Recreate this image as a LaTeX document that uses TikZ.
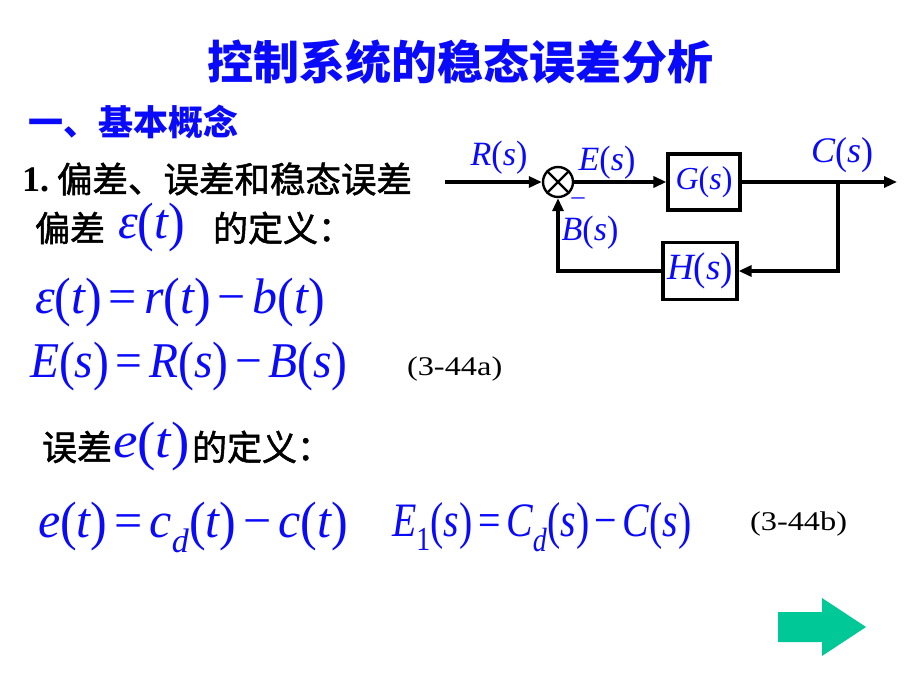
\documentclass[tikz,border=0pt]{standalone}
\usepackage{graphicx}
\usepackage{fontspec}
\setmainfont{Liberation Serif}
\newfontfamily\cjk[FakeBold=1.5]{Noto Sans CJK SC}
\newfontfamily\cjkt{Noto Sans CJK SC}
\usetikzlibrary{arrows.meta}
\definecolor{tblue}{RGB}{10,10,250}
\definecolor{agreen}{RGB}{0,200,150}
\newcommand\fs[1]{\fontsize{#1}{#1}\selectfont}
\newcommand\LP{{\upshape\raisebox{-0.04em}{\scalebox{1}[1.08]{(}}}}
\newcommand\RP{{\upshape\raisebox{-0.04em}{\scalebox{1}[1.08]{)}}}}
\newcommand\EQ{\hspace{0.14em}{\upshape=}\hspace{0.14em}}
\newcommand\MI{\hspace{0.14em}{\upshape−}\hspace{0.14em}}
\tikzset{
  txt/.style={inner sep=0pt, outer sep=0pt, anchor=west},
  cn/.style={txt, font=\cjk\fs{35}},
  mth/.style={txt, text=tblue, font=\itshape\fs{50}},
  lbl/.style={inner sep=0pt, text=tblue, font=\itshape\fs{34}},
  blk/.style={draw, line width=3.2pt, inner sep=0pt},
  wire/.style={line width=3.2pt},
  arr/.style={wire, -{Triangle[length=13pt,width=11pt]}},
  eqno/.style={txt, font=\fs{27}},
}
\begin{document}
\begin{tikzpicture}[x=1pt,y=-1pt]
\useasboundingbox (0,0) rectangle (920,690);
% title
\node[inner sep=0pt, text=tblue, font=\cjkt\bfseries\fs{46}] (title) at (460,62) {控制系统的稳态误差分析};
\node[cn, text=tblue, font=\cjkt\bfseries\fs{35}] (sec) at (28,122) {一、基本概念};
\node[txt, font=\bfseries\fs{36}] (num) at (22,180) {1.};
\node[cn, font=\cjk\fs{35.5}] (sub) at (57,179) {偏差、误差和稳态误差};
% line 3
\node[cn] (pc) at (35,228) {偏差};
\node[mth] (eps) at (118,228) {ε\LP t\RP};
\node[cn] (def1) at (213,228) {的定义：};
% equations
\node[mth] (eq1) at (35,303) {ε\LP t\RP\EQ r\LP t\RP\MI b\LP t\RP};
\node[mth] (eq2) at (30,367) {\scalebox{0.95}[1]{E\LP s\RP\EQ R\LP s\RP\MI B\LP s\RP}};
\node[eqno] (n1) at (407,369) {\scalebox{1.2}[1]{(3-44a)}};
\node[cn] (wc) at (42,447) {误差};
\node[mth] (et) at (113,447) {\scalebox{1.1}[1]{e\LP t\RP}};
\node[cn] (def2) at (192,447) {的定义：};
\node[mth] (eq3) at (38,527) {e\LP t\RP\EQ c\textsubscript{\fs{34}d}\LP t\RP\MI c\LP t\RP};
\node[mth, font=\itshape\fs{48}] (eq4) at (392,527) {\scalebox{0.83}[1]{E\textsubscript{\upshape 1}\LP s\RP\EQ C\textsubscript{d}\LP s\RP\MI C\LP s\RP}};
\node[eqno] (n2) at (750,524) {\scalebox{1.2}[1]{(3-44b)}};
% next arrow
\fill[agreen] (778,612) -- (822,612) -- (822,598) -- (866,627) -- (822,656) -- (822,642) -- (778,642) -- cycle;
% block diagram
\node[draw, circle, line width=2.4pt, minimum size=30pt, inner sep=0pt] (sum) at (558,182) {};
\draw[line width=2.4pt] (sum.45) -- (sum.225) (sum.135) -- (sum.315);
\node[blk, minimum width=72pt, minimum height=56pt] (G) at (704,182) {};
\node[lbl, font=\itshape\fs{32}] (Gl) at (G.center) {G\LP s\RP};
\node[blk, minimum width=74pt, minimum height=57pt] (H) at (700,271) {};
\node[lbl, font=\itshape\fs{37}] (Hl) at (H.center) {H\LP s\RP};
\coordinate (in) at (445,182);
\coordinate (out) at (897,182);
\coordinate (br) at (838,182);
\draw[arr] (in) -- (sum);
\draw[arr] (sum) -- (G);
\draw[arr] (G) -- (out);
\draw[arr] (br) |- (H);
\draw[arr] (H) -| (sum);
\node[lbl] (Rl) at (499,158) {R\LP s\RP};
\node[lbl] (El) at (607,163) {E\LP s\RP};
\node[lbl, font=\itshape\fs{36}] (Cl) at (842,155) {C\LP s\RP};
\node[lbl] (Bl) at (590,233) {B\LP s\RP};
\node[lbl, font=\upshape\fs{26}] (minus) at (578,201) {–};
\end{tikzpicture}
\end{document}
